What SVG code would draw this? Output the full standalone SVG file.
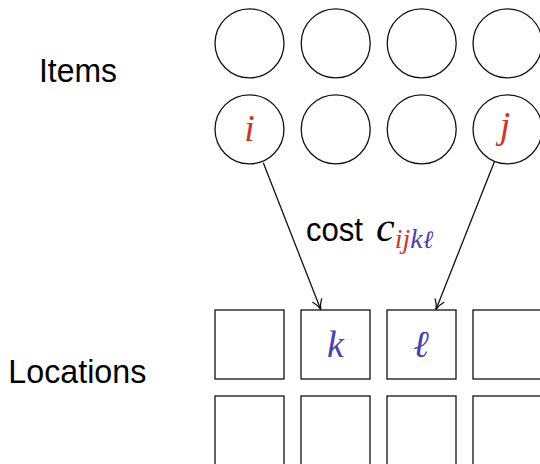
<svg xmlns="http://www.w3.org/2000/svg" width="540" height="464" viewBox="0 0 540 464">
<style>
.node{fill:#fff;stroke:#111;stroke-width:1.3}
.lbl{font-family:"Liberation Sans","DejaVu Sans",sans-serif;font-size:34px;fill:#000}
.math{font-family:"Liberation Serif","DejaVu Serif",serif;font-style:italic;font-size:38px;text-anchor:middle}
.ell{font-family:"DejaVu Serif",serif;font-style:italic}
.red{fill:#c8392e}
.blue{fill:#4a41a8}
.edge{fill:none;stroke:#111;stroke-width:1.3}
</style>
<defs>
<marker id="arr" markerUnits="userSpaceOnUse" markerWidth="14" markerHeight="14" refX="11" refY="6" orient="auto" viewBox="0 0 14 12">
<path d="M1,1 Q6,5 11,6 Q6,7 1,11" fill="none" stroke="#111" stroke-width="1.3"/>
</marker>
</defs>
<rect width="540" height="464" fill="#fff"/>
<text class="lbl" x="39" y="82.3" textLength="78" lengthAdjust="spacingAndGlyphs">Items</text>
<text class="lbl" x="8.3" y="382.7" textLength="138" lengthAdjust="spacingAndGlyphs">Locations</text>
<g id="item-r1c1"><circle class="node" cx="249.5" cy="43.3" r="34.5"/></g>
<g id="item-r1c2"><circle class="node" cx="335.7" cy="43.3" r="34.5"/></g>
<g id="item-r1c3"><circle class="node" cx="421.7" cy="43.3" r="34.5"/></g>
<g id="item-r1c4"><circle class="node" cx="507.5" cy="43.3" r="34.5"/></g>
<g id="item-i"><circle class="node" cx="249.5" cy="129.3" r="34.5"/><text class="math red" x="249.5" y="141">i</text></g>
<g id="item-r2c2"><circle class="node" cx="335.7" cy="129.3" r="34.5"/></g>
<g id="item-r2c3"><circle class="node" cx="421.7" cy="129.3" r="34.5"/></g>
<g id="item-j"><circle class="node" cx="507.5" cy="129.3" r="34.5"/><text class="math red" x="505" y="138">j</text></g>
<g id="loc-r1c1"><rect class="node" x="215" y="310" width="69" height="69"/></g>
<g id="loc-k"><rect class="node" x="301" y="310" width="69" height="69"/><text class="math blue" x="335.5" y="357">k</text></g>
<g id="loc-l"><rect class="node" x="387" y="310" width="69" height="69"/><text class="math blue ell" x="421" y="357" font-size="34">ℓ</text></g>
<g id="loc-r1c4"><rect class="node" x="473" y="310" width="69" height="69"/></g>
<g id="loc-r2c1"><rect class="node" x="215" y="396" width="69" height="69"/></g>
<g id="loc-r2c2"><rect class="node" x="301" y="396" width="69" height="69"/></g>
<g id="loc-r2c3"><rect class="node" x="387" y="396" width="69" height="69"/></g>
<g id="loc-r2c4"><rect class="node" x="473" y="396" width="69" height="69"/></g>
<g id="connectors">
<line class="edge" x1="263.3" y1="162.7" x2="320.7" y2="309.5" marker-end="url(#arr)"/>
<line class="edge" x1="494.3" y1="162" x2="436" y2="309.5" marker-end="url(#arr)"/>
</g>
<g id="cost-label">
<text class="lbl" x="306" y="241" textLength="57" lengthAdjust="spacingAndGlyphs">cost</text>
<text font-family="Liberation Serif, DejaVu Serif, serif" font-style="italic" font-size="42" x="376" y="241" fill="#000">c<tspan font-size="28" y="248" class="red">ij</tspan><tspan font-size="28" y="248" class="blue">k</tspan><tspan font-size="25" y="248" class="blue ell">ℓ</tspan></text>
</g>
</svg>
